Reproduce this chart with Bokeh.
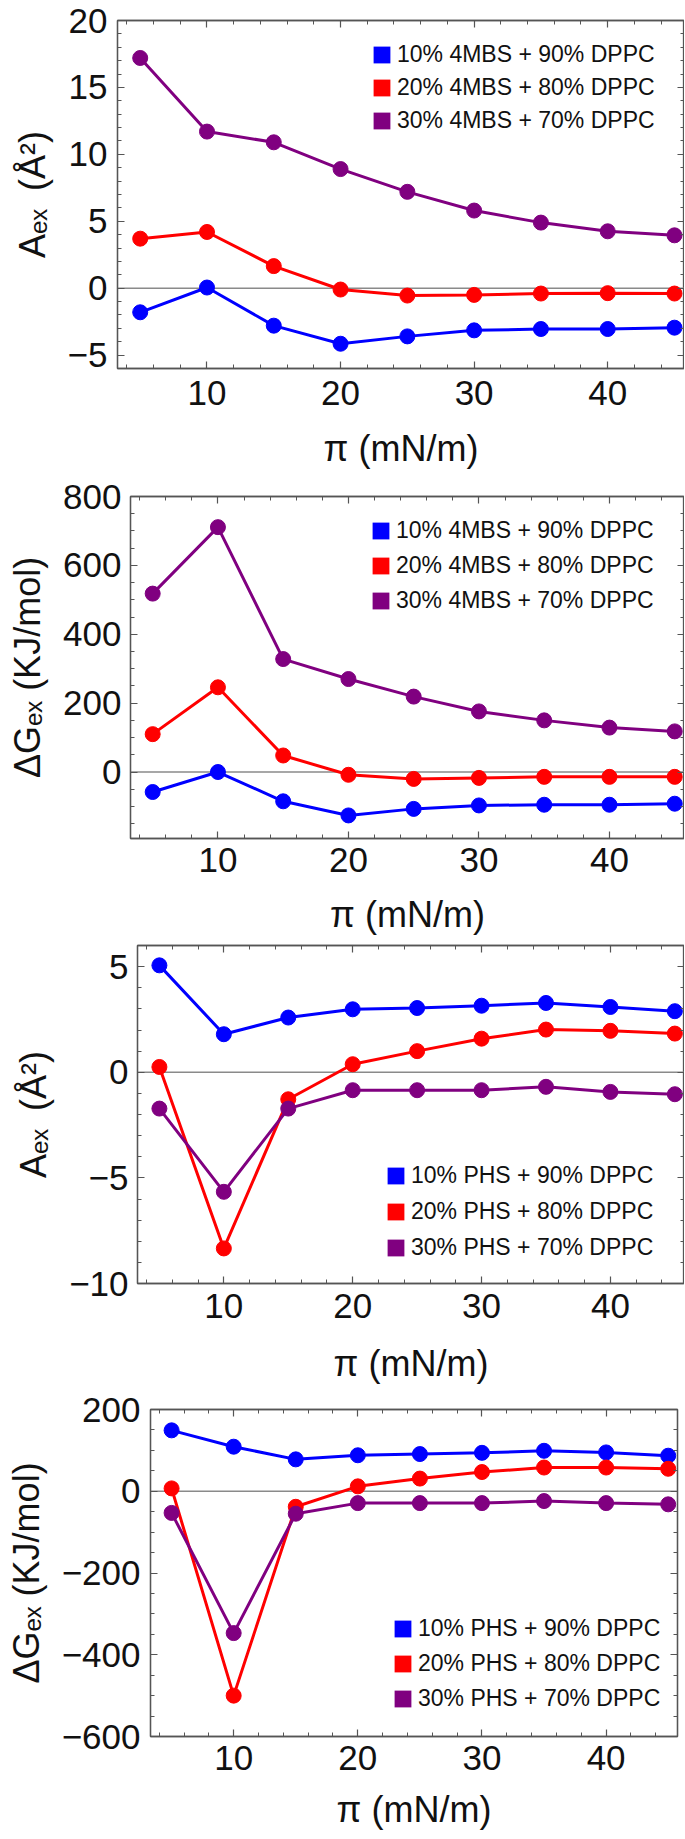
from bokeh.plotting import figure
from bokeh.models import (Range1d, LinearAxis, SingleIntervalTicker, Span, Legend,
                          LegendItem, CustomJSTickFormatter)
from bokeh.layouts import column
from bokeh.embed import file_html
from bokeh.resources import INLINE

# ---------------- data ----------------
pressure = [5, 10, 15, 20, 25, 30, 35, 40, 45]

aex_4mbs_10 = [-1.8, 0.05, -2.8, -4.15, -3.6, -3.15, -3.05, -3.05, -2.95]
aex_4mbs_20 = [3.7, 4.2, 1.65, -0.1, -0.55, -0.5, -0.4, -0.37, -0.4]
aex_4mbs_30 = [17.2, 11.7, 10.9, 8.9, 7.2, 5.8, 4.9, 4.25, 3.95]

dg_4mbs_10 = [-58, 0, -85, -126, -107, -97, -95, -95, -92]
dg_4mbs_20 = [110, 246, 48, -8, -20, -17, -14, -14, -14]
dg_4mbs_30 = [518, 711, 328, 270, 219, 176, 150, 129, 118]

aex_phs_10 = [5.06, 1.8, 2.59, 2.98, 3.04, 3.15, 3.28, 3.09, 2.89]
aex_phs_20 = [0.25, -8.34, -1.28, 0.38, 1.0, 1.59, 2.02, 1.96, 1.83]
aex_phs_30 = [-1.72, -5.66, -1.72, -0.85, -0.85, -0.85, -0.69, -0.93, -1.04]

dg_phs_10 = [149, 109, 78, 88, 91, 94, 99, 95, 87]
dg_phs_20 = [7, -500, -38, 12, 31, 47, 58, 58, 55]
dg_phs_30 = [-53, -347, -55, -29, -29, -29, -24, -29, -32]

labels_4mbs = ["10% 4MBS + 90% DPPC", "20% 4MBS + 80% DPPC", "30% 4MBS + 70% DPPC"]
labels_phs = ["10% PHS + 90% DPPC", "20% PHS + 80% DPPC", "30% PHS + 70% DPPC"]

x_label = "π (mN/m)"
ylabel_area = "Aₑₓ\u2002(Å²)"
ylabel_gibbs = "ΔGₑₓ (KJ/mol)"

colors = ["#0000FF", "#FF0000", "#800080"]

FONT = "Liberation Sans"
FRAME = "#555555"
MINUS = "\u2212"


def style_axis(ax, tick_font="35px", label_font="36px", standoff=10, label_standoff=10):
    ax.major_tick_in = 7
    ax.major_tick_out = 0
    ax.minor_tick_in = 4
    ax.minor_tick_out = 0
    ax.axis_line_color = FRAME
    ax.axis_line_width = 1.3
    ax.major_tick_line_color = FRAME
    ax.minor_tick_line_color = FRAME
    ax.major_tick_line_width = 1.2
    ax.minor_tick_line_width = 1.0
    ax.major_label_text_font = FONT
    ax.major_label_text_font_size = tick_font
    ax.major_label_text_color = "#111111"
    ax.major_label_standoff = standoff
    ax.axis_label_text_font = FONT
    ax.axis_label_text_font_size = label_font
    ax.axis_label_text_font_style = "normal"
    ax.axis_label_text_color = "#111111"
    ax.axis_label_standoff = label_standoff


def minus_overrides(lo, hi, step):
    out = {}
    t = (int(lo // step)) * step
    while t <= hi:
        if t < 0:
            out[t] = MINUS + str(abs(t))
        t += step
    return out


def panel(width, height, shift, yr, yint, yminor, ylabel, series, labels, borders,
          xstand, xlstand, ystand, ylstand, leg_loc, leg_spacing):
    bt, bb, bl, br = borders
    p = figure(width=width, height=height, x_range=Range1d(3.3, 45.75),
               y_range=Range1d(*yr), output_backend="svg", toolbar_location=None,
               min_border_top=bt, min_border_bottom=bb, min_border_left=bl,
               min_border_right=br, frame_align=False, margin=(0, 0, 0, shift))
    p.xgrid.visible = False
    p.ygrid.visible = False
    p.outline_line_color = FRAME
    p.outline_line_width = 1.3

    p.xaxis[0].ticker = SingleIntervalTicker(interval=10, num_minor_ticks=5)
    p.yaxis[0].ticker = SingleIntervalTicker(interval=yint, num_minor_ticks=yminor)
    style_axis(p.xaxis[0], standoff=xstand, label_standoff=xlstand)
    style_axis(p.yaxis[0], standoff=ystand, label_standoff=ylstand)
    p.xaxis[0].axis_label = x_label
    p.yaxis[0].axis_label = ylabel
    p.yaxis[0].major_label_overrides = minus_overrides(yr[0], yr[1], yint)

    blank = CustomJSTickFormatter(code="return ''")
    top = LinearAxis(ticker=SingleIntervalTicker(interval=10, num_minor_ticks=5),
                     formatter=blank)
    right = LinearAxis(ticker=SingleIntervalTicker(interval=yint, num_minor_ticks=yminor),
                       formatter=blank)
    for ax in (top, right):
        style_axis(ax, tick_font="1px", standoff=0, label_standoff=0)
    p.add_layout(top, "above")
    p.add_layout(right, "right")

    zero = Span(location=0, dimension="width", line_color="#8a8a8a", line_width=1.5,
                level="underlay")
    p.add_layout(zero)

    items = []
    for vals, c, lab in zip(series, colors, labels):
        p.line(pressure, vals, line_color=c, line_width=3)
        p.scatter(pressure, vals, size=15, fill_color=c, line_color=c)
        # zero-size rects: invisible on the plot, give square legend swatches
        r = p.rect(x=pressure, y=vals, width=0, height=0, fill_color=c, line_color=None)
        items.append(LegendItem(label=lab, renderers=[r]))

    leg = Legend(items=items, location=leg_loc, orientation="vertical", padding=0,
                 margin=0, spacing=leg_spacing, glyph_width=21, glyph_height=21,
                 label_height=26, label_standoff=5, label_text_font=FONT,
                 label_text_font_size="23px", label_text_color="#111111",
                 border_line_alpha=0, background_fill_alpha=0)
    p.add_layout(leg)
    return p


p1 = panel(677, 472, 7, (-6, 20), 5, 5, ylabel_area,
           [aex_4mbs_10, aex_4mbs_20, aex_4mbs_30],
           labels_4mbs, (20, 104, 110, 0), 12, 20, 10, 12, (254, 234), 6)
p2 = panel(680, 465, 4, (-193, 800), 200, 4, ylabel_gibbs,
           [dg_4mbs_10, dg_4mbs_20, dg_4mbs_30],
           labels_4mbs, (24, 98, 125, 0), 9, 19, 9, 12, (240, 224), 8)
p3 = panel(674, 451, 10, (-10, 6), 5, 5, ylabel_area,
           [aex_phs_10, aex_phs_20, aex_phs_30],
           labels_phs, (8, 105, 127, 0), 10, 22, 9, 12, (248, 22), 9)
p4 = panel(682, 444, 2, (-600, 200), 200, 4, ylabel_gibbs,
           [dg_phs_10, dg_phs_20, dg_phs_30],
           labels_phs, (21, 95, 145, 7), 9, 16, 10, 12, (242, 24), 8)

layout = column(p1, p2, p3, p4, spacing=0)
open("out.html", "w").write(file_html(layout, INLINE))
